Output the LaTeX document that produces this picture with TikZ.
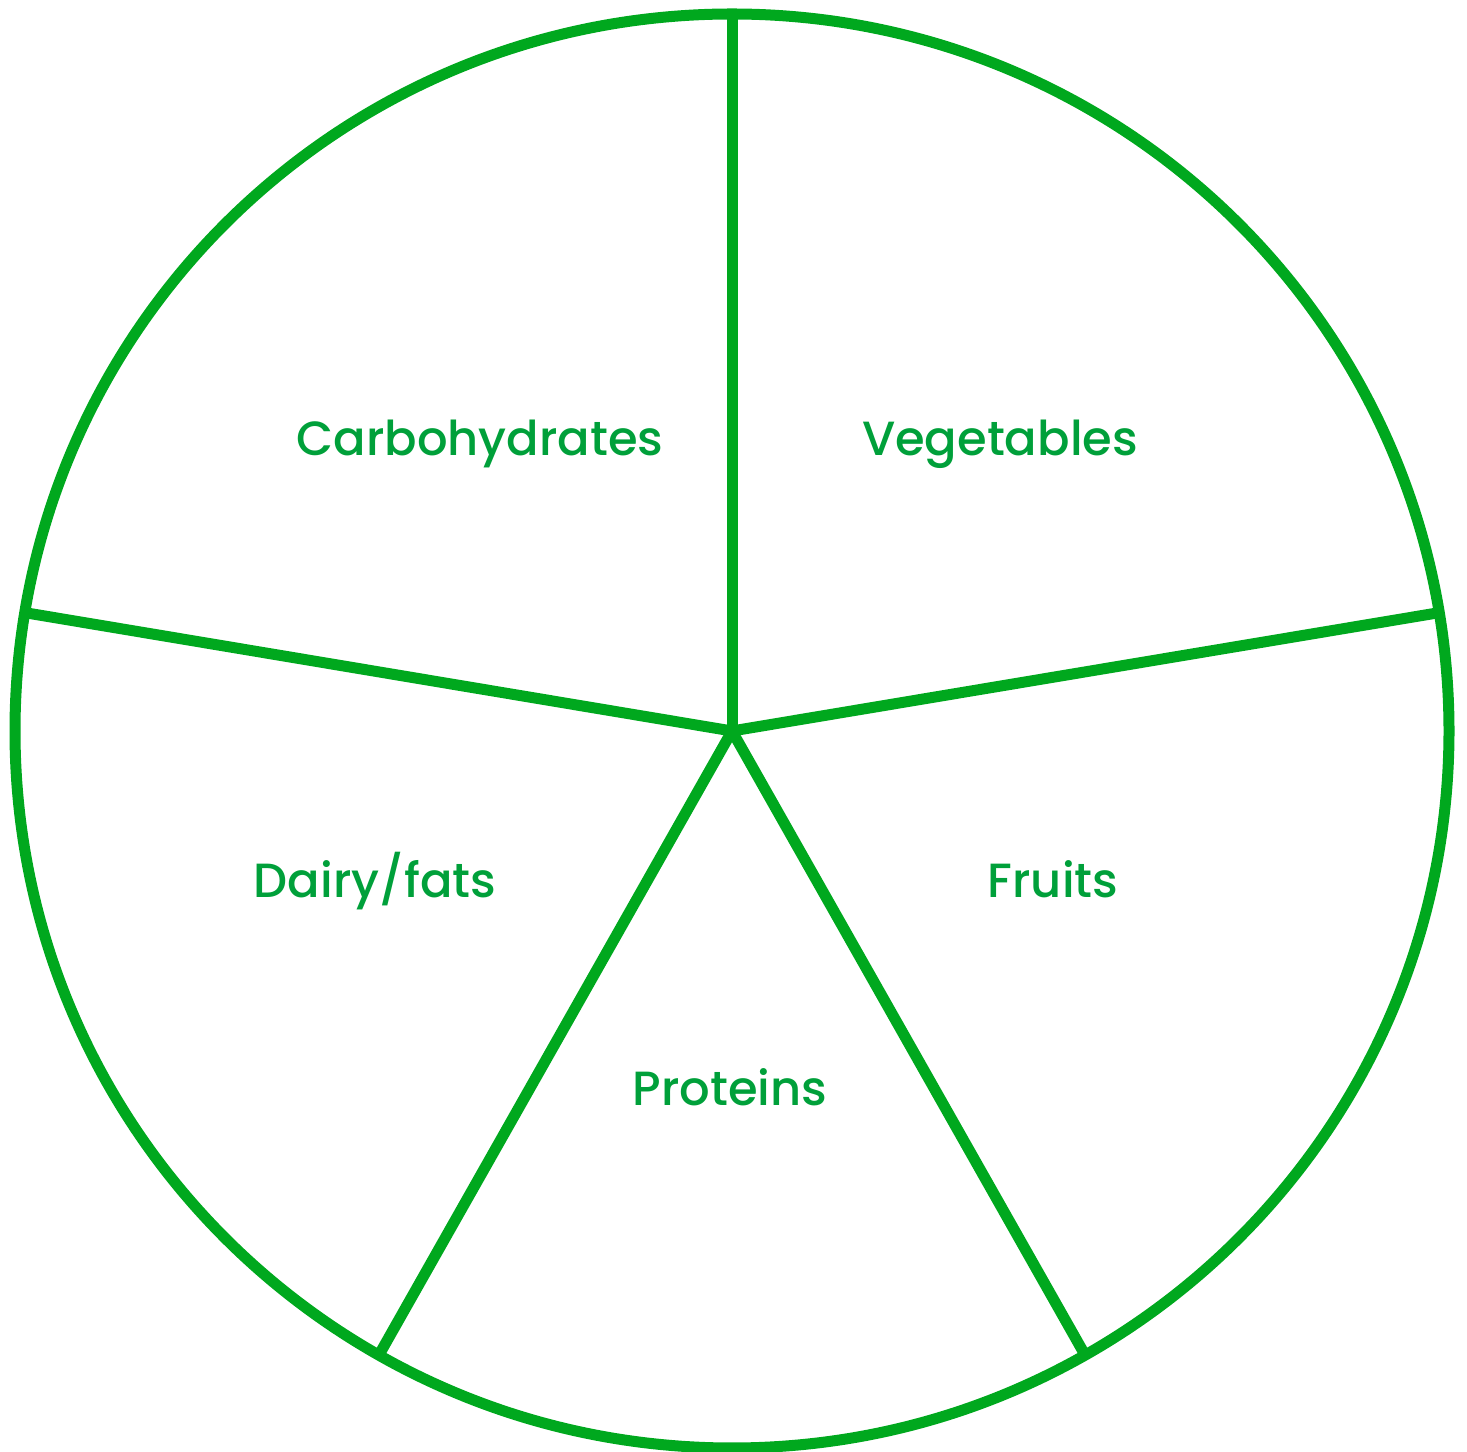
\documentclass[tikz,border=0pt]{standalone}
\usepackage{fontspec}
\setmainfont{Poppins Medium}
\usetikzlibrary{calc}
\definecolor{linegreen}{RGB}{0,168,30}
\definecolor{textgreen}{RGB}{0,160,58}
\begin{document}
\begin{tikzpicture}[x=1pt,y=1pt,
  rim/.style={draw=linegreen,line width=11pt},
  spoke/.style={draw=linegreen,line width=11pt},
  lbl/.style={text=textgreen,font=\fontsize{48}{54}\selectfont,inner sep=0pt,anchor=center}]
\useasboundingbox (0,0) rectangle (1467,1451);
\coordinate (c) at (732,720);
\draw[rim] (c) circle (717);
\coordinate (top) at ($(c)+(90:717)$);
\coordinate (right) at ($(c)+(9.5:717)$);
\coordinate (lr) at ($(c)+(-60.5:717)$);
\coordinate (ll) at ($(c)+(-119.5:717)$);
\coordinate (left) at ($(c)+(170.5:717)$);
\draw[spoke] (c) -- (top);
\draw[spoke] (c) -- (right);
\draw[spoke] (c) -- (lr);
\draw[spoke] (c) -- (ll);
\draw[spoke] (c) -- (left);
\node[lbl] (carb) at (480,1007) {Carbohydrates};
\node[lbl] (veg) at (1000,1007) {Vegetables};
\node[lbl] (dairy) at (375,570) {Dairy/fats};
\node[lbl] (fruit) at (1053,572) {Fruits};
\node[lbl] (prot) at (730,364) {Proteins};
\end{tikzpicture}
\end{document}
